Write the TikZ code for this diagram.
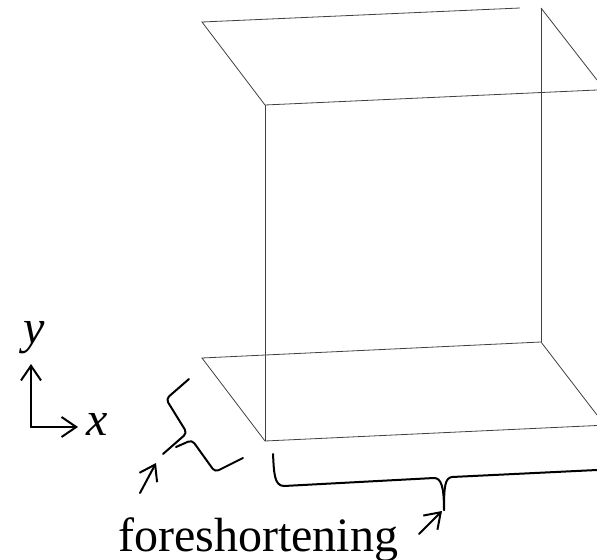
\documentclass[tikz,border=0pt]{standalone}
\usepackage{fontspec}
\setmainfont{Liberation Serif}
\usetikzlibrary{arrows.meta}

\begin{document}
\begin{tikzpicture}[
  x=0.75pt, y=-0.75pt,
  >={Straight Barb[length=11pt,width=15pt,line width=1.5pt]},
  edge/.style={black!75, line width=0.6pt},
  mark line/.style={black, line width=1.5pt, line cap=round, line join=round},
  label/.style={anchor=base west, inner sep=0pt, font=\fontsize{36}{40}\selectfont},
]
\useasboundingbox (0,0) rectangle (597,560);

% Corners of the box
\coordinate (topback)   at (202,22);
\coordinate (topfront)  at (265,105);
\coordinate (topend)    at (520,8);
\coordinate (topright)  at (541,8);
\coordinate (botback)   at (202,358);
\coordinate (botfront)  at (265,441);
\coordinate (botright)  at (541,342);

% --- Top plane ---
\draw[edge] (topend) -- (topback) -- (topfront) -- (597,90);
\draw[edge] (topright) -- (597,80);

% --- Bottom plane ---
\draw[edge] (597,425.5) -- (botfront) -- (botback) -- (botright) -- (597,415);

% --- Verticals ---
\draw[edge] (topfront) -- (botfront);
\draw[edge] (topright) -- (botright);

% --- Axes ---
\coordinate (origin) at (31,427);
\draw[mark line, ->] (origin) -- (31,364);
\draw[mark line, ->] (origin) -- (78,427);
\node[label] (ylabel) at (23,343) {\itshape y};
\node[label] (xlabel) at (86,435) {\itshape x};

% --- Side bracket ---
\draw[mark line, rounded corners=3pt]
  (189,379) -- (166,399) -- (187,433) -- (163,454);
\draw[mark line, rounded corners=3pt]
  (176,447) -- (192,440) -- (215,472) -- (243,458);
\draw[mark line, ->] (140,493) -- (156,463);

% --- Front bracket ---
\draw[mark line] (273,454) .. controls (274,472) and (274,486) .. (284,486)
  -- (434,478) .. controls (441,478) and (444,486) .. (444,510);
\draw[mark line] (444,510) .. controls (444,486) and (445,478) .. (452,477)
  -- (597,470);
\draw[mark line, ->] (419,534) -- (442,511);

\node[label] (caption) at (118,551) {foreshortening};

\end{tikzpicture}
\end{document}
